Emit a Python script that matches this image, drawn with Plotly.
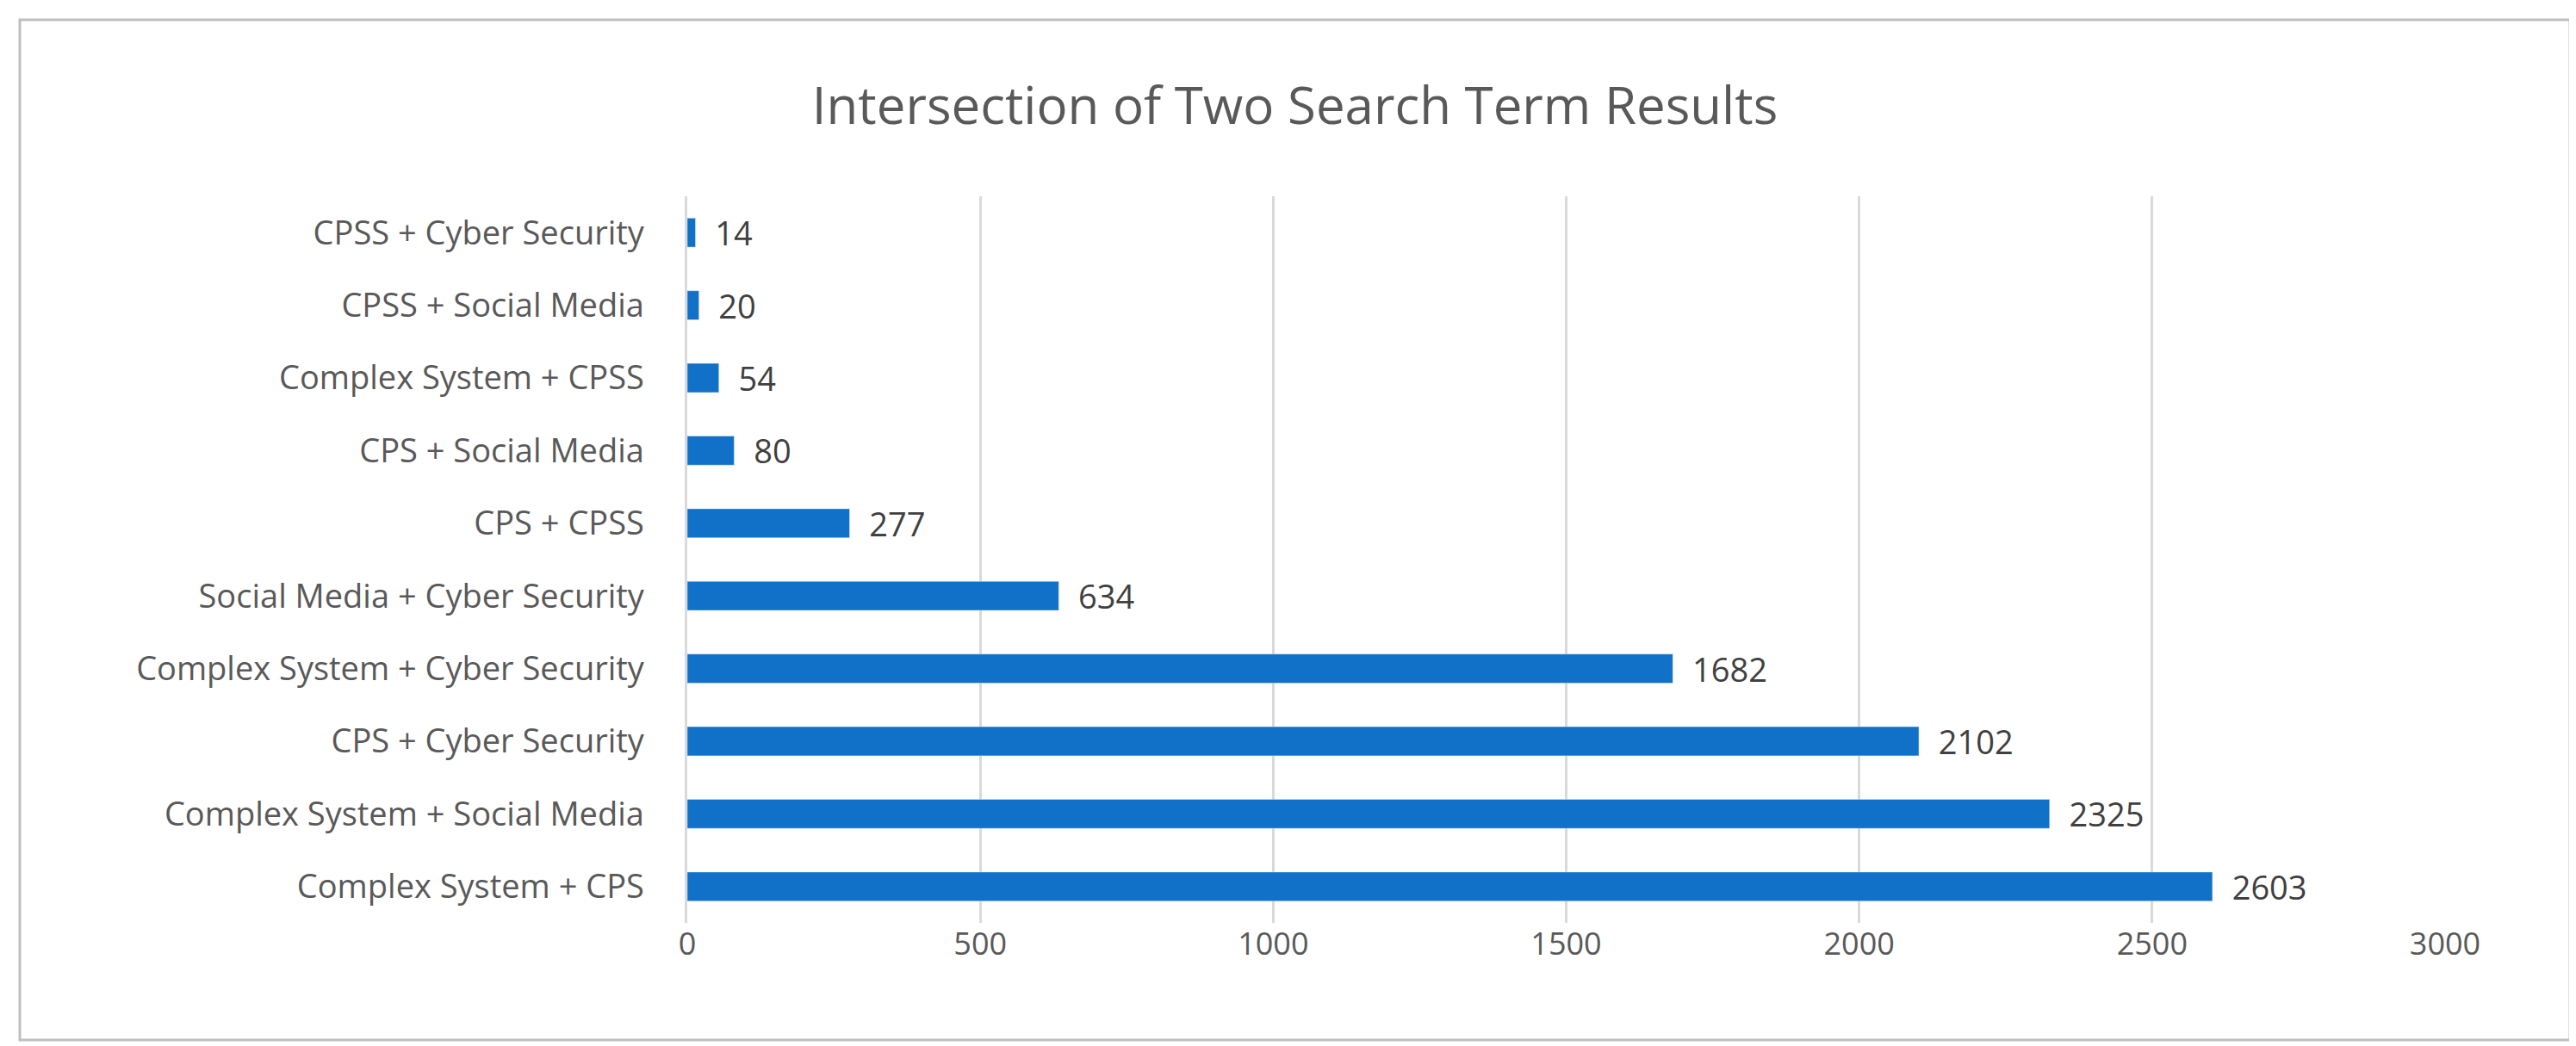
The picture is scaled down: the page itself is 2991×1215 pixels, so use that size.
import plotly.graph_objects as go

categories = ["Complex System + CPS", "Complex System + Social Media", "CPS + Cyber Security",
              "Complex System + Cyber Security", "Social Media + Cyber Security", "CPS + CPSS",
              "CPS + Social Media", "Complex System + CPSS", "CPSS + Social Media", "CPSS + Cyber Security"]
values = [2603, 2325, 2102, 1682, 634, 277, 80, 54, 20, 14]
tick_vals = [0, 500, 1000, 1500, 2000, 2500, 3000]

L, R, T, B = 790, 160, 220, 151
fig = go.Figure(go.Bar(
    y=categories, x=values, orientation="h",
    marker_color="#1170C8",
    text=["  " + str(v) for v in values], textposition="outside", constraintext="none",
    textfont=dict(size=38, color="#404040"), cliponaxis=False,
))
fig.update_layout(
    width=2991, height=1215,
    paper_bgcolor="white", plot_bgcolor="white",
    font=dict(family="Open Sans, Liberation Sans, sans-serif", color="#595959", size=36),
    title=dict(text="Intersection of Two Search Term Results", x=0.5, xanchor="center",
               y=0.905, yanchor="middle", font=dict(size=60, color="#595959")),
    margin=dict(l=L, r=R, t=T, b=B),
    bargap=0.6, showlegend=False,
    xaxis=dict(range=[0, 3000], tickvals=tick_vals, showgrid=True, gridcolor="#D9D9D9",
               gridwidth=3, zeroline=False, showline=False, ticks="", tickfont=dict(size=36)),
    yaxis=dict(showgrid=False, ticks="", ticksuffix="    ", tickfont=dict(size=38, color="#595959"),
               showline=True, linecolor="#D9D9D9", linewidth=3),
)
pw, ph = 2991 - L - R, 1215 - T - B
fig.update_layout(shapes=[dict(type="rect", xref="x domain", yref="y domain",
                               x0=-(L-15)/pw, x1=1+(R-15)/pw, y0=-(B-15)/ph, y1=1+(T-15)/ph,
                               line=dict(color="#BFBFBF", width=3))])
fig.write_html("out.html")
